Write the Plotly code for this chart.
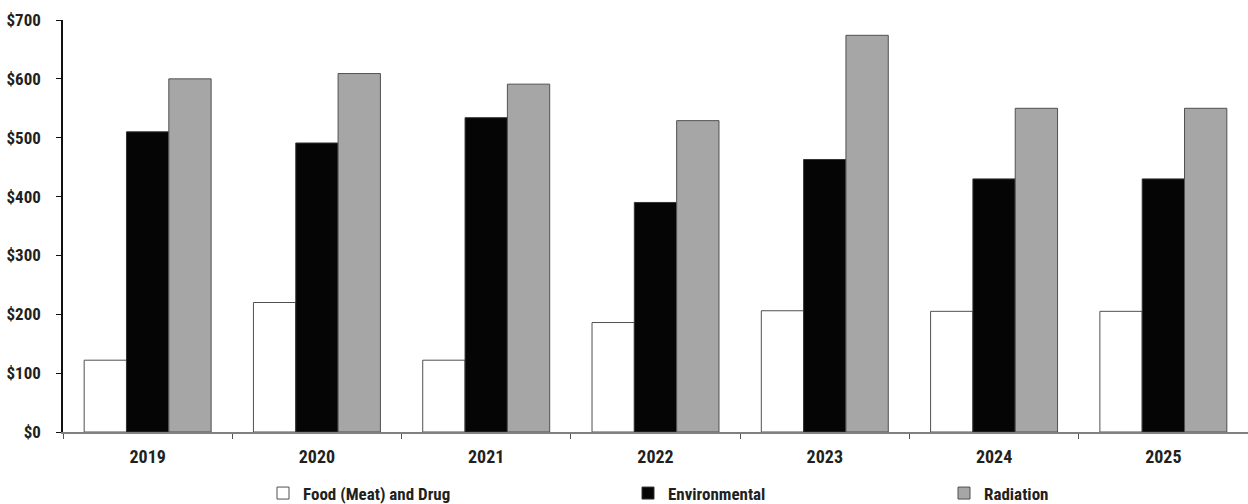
import plotly.graph_objects as go

years = ["2019", "2020", "2021", "2022", "2023", "2024", "2025"]
food = [122, 220, 122, 186, 206, 205, 205]
environmental = [510, 491, 534, 390, 463, 430, 430]
radiation = [600, 609, 591, 529, 674, 550, 550]
y_ticks = [0, 100, 200, 300, 400, 500, 600, 700]
y_tick_labels = ["$0", "$100", "$200", "$300", "$400", "$500", "$600", "$700"]

FONT = "Roboto Condensed, Open Sans Condensed, DejaVu Sans Condensed, sans-serif"
TXT = "#231f20"

fig = go.Figure()
fig.add_trace(go.Bar(name="Food (Meat) and Drug", x=years, y=food,
                     marker=dict(color="#ffffff", line=dict(color="#505050", width=1)),
                     legend="legend"))
fig.add_trace(go.Bar(name="Environmental", x=years, y=environmental,
                     marker=dict(color="#050505", line=dict(color="#333333", width=1)),
                     legend="legend2"))
fig.add_trace(go.Bar(name="Radiation", x=years, y=radiation,
                     marker=dict(color="#a6a6a6", line=dict(color="#505050", width=1)),
                     legend="legend3"))

leg_common = dict(orientation="h", yanchor="middle", xanchor="left",
                  font=dict(family=FONT, size=17, color=TXT, weight="bold"),
                  bgcolor="rgba(0,0,0,0)", itemwidth=30, tracegroupgap=0,
                  borderwidth=0,
                  xref="container", yref="container", y=1 - 493.5 / 504)

fig.update_layout(
    width=1248, height=504,
    margin=dict(l=63, r=0, t=20, b=72, autoexpand=False),
    paper_bgcolor="white", plot_bgcolor="white",
    barmode="group", bargap=0.25, bargroupgap=0,
    font=dict(family=FONT, size=17, color=TXT),
    showlegend=True,
    legend=dict(x=263 / 1248, **leg_common),
    legend2=dict(x=628 / 1248, **leg_common),
    legend3=dict(x=944 / 1248, **leg_common),
    xaxis=dict(
        type="category", showline=True, linecolor="#808080", linewidth=1.5,
        ticks="outside", tickson="boundaries", ticklen=5, tickcolor="#555555",
        tickfont=dict(family=FONT, size=18, color=TXT, weight="bold"), ticklabelstandoff=8,
        showgrid=False, zeroline=False, automargin=False,
    ),
    yaxis=dict(
        range=[0, 700], tickvals=y_ticks, ticktext=y_tick_labels,
        showline=True, linecolor="#111111", linewidth=1.5,
        ticks="outside", ticklen=5, tickcolor="#111111",
        tickfont=dict(family=FONT, size=17, color=TXT, weight="bold"),
        showgrid=False, zeroline=False, ticklabelstandoff=12, automargin=False,
    ),
)

fig.write_html("out.html", post_script="document.body.style.margin='0';",
               config={"displayModeBar": False})
